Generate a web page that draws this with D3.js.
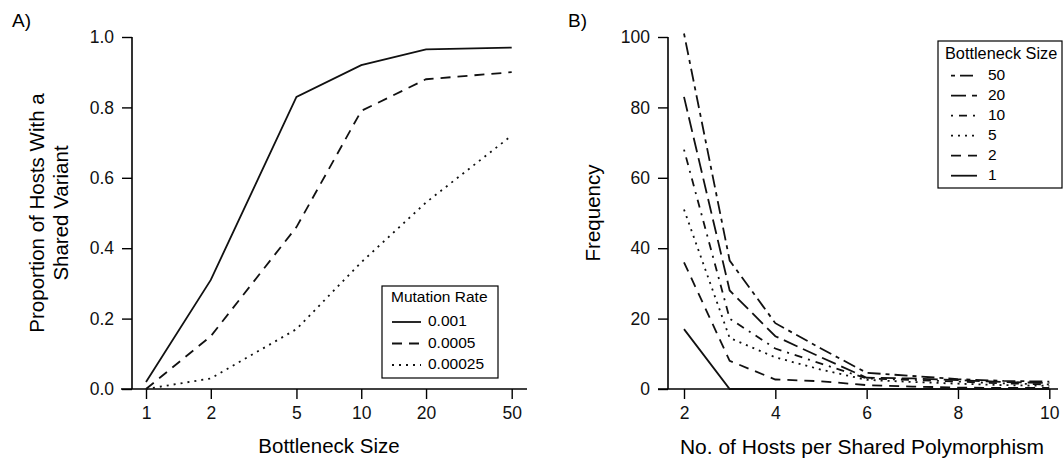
<!DOCTYPE html>
<html>
<head>
<meta charset="utf-8">
<script src="https://cdn.jsdelivr.net/npm/d3@7"></script>
<style>
  body { margin: 0; background: #fff; }
  svg { display: block; font-family: "Liberation Sans", Arial, Helvetica, sans-serif; }
</style>
</head>
<body>
<svg id="chart" width="1064" height="461"></svg>
<script>
// ---------- Data: Panel A ----------
const bottleneckSizes = [1, 2, 5, 10, 20, 50];
const mutationRates = ["0.001", "0.0005", "0.00025"];
const propRate001 = [0.02, 0.31, 0.83, 0.92, 0.965, 0.97];
const propRate0005 = [0.0, 0.15, 0.46, 0.79, 0.88, 0.90];
const propRate00025 = [0.0, 0.03, 0.17, 0.36, 0.53, 0.72];
const yTicksA = [0.0, 0.2, 0.4, 0.6, 0.8, 1.0];

// ---------- Data: Panel B ----------
const hostsPerPoly = [2, 3, 4, 5, 6, 7, 8, 9, 10];
const bottleneckLabels = ["50", "20", "10", "5", "2", "1"];
const freqB50 = [101, 36.5, 18.7, 11.5, 4.6, 3.7, 2.8, 2.3, 2.1];
const freqB20 = [83, 28, 15, 9, 3.2, 3.0, 2.5, 2.0, 1.7];
const freqB10 = [68, 20, 11.5, 7.2, 3.0, 2.6, 2.1, 1.6, 1.3];
const freqB5 = [51, 14.5, 9, 5.5, 2.6, 2.0, 1.5, 1.1, 0.9];
const freqB2 = [36, 8, 2.7, 2.2, 1.1, 0.7, 0.4, 0.3, 0.3];
const freqB1 = [17, 0, 0, 0, 0, 0, 0, 0, 0];
const yTicksB = [0, 20, 40, 60, 80, 100];
const xTicksB = [2, 4, 6, 8, 10];

// ---------- Styles ----------
const dashA = [null, "10,7", "2,5"];
const dashB = ["4,5,13,5", "15,6", "2,6,8,6", "2,5", "10,7", null];
const LW = 1.8;
const TICK_FONT = 17.5, TITLE_FONT = 20.5, LEG_FONT = 15.5;

const svg = d3.select("#chart");

function panel(opts) {
  const g = svg.append("g");
  const { x, y, axisX, xl, xr, yt, yb } = opts;
  g.append("line").attr("x1", axisX).attr("x2", axisX).attr("y1", yt).attr("y2", yb)
    .attr("stroke", "#000").attr("stroke-width", 1.6);
  g.append("line").attr("x1", xl).attr("x2", xr).attr("y1", yb).attr("y2", yb)
    .attr("stroke", "#000").attr("stroke-width", 1.6);
  const ya = d3.axisLeft(y).tickValues(opts.yTicks).tickFormat(opts.yFmt).tickSize(10).tickPadding(8);
  const yg = g.append("g").attr("transform", `translate(${axisX},0)`).call(ya);
  yg.select(".domain").remove();
  yg.selectAll(".tick line").attr("stroke-width", 1.4);
  yg.selectAll("text").attr("font-size", TICK_FONT).attr("font-family", null).attr("fill", "#111");
  const xa = d3.axisBottom(x).tickValues(opts.xTicks).tickFormat(opts.xFmt).tickSize(10).tickPadding(8);
  const xg = g.append("g").attr("transform", `translate(0,${yb})`).call(xa);
  xg.select(".domain").remove();
  xg.selectAll(".tick line").attr("stroke-width", 1.4);
  xg.selectAll("text").attr("font-size", TICK_FONT).attr("font-family", null).attr("fill", "#111");
  return g;
}

// ---------- Panel A ----------
const xA = d3.scaleLog().domain([1, 50]).range([146, 511.7]);
const yA = d3.scaleLinear().domain([0, 1]).range([389, 37]);
const gA = panel({ x: xA, y: yA, axisX: 132, xl: 121, xr: 527, yt: 37, yb: 389,
  xTicks: bottleneckSizes, yTicks: yTicksA, xFmt: d => String(d), yFmt: d3.format(".1f") });

const seriesA = [propRate001, propRate0005, propRate00025];
const lineA = d3.line().x((d, i) => xA(bottleneckSizes[i])).y(d => yA(d));
seriesA.forEach((s, k) => {
  gA.append("path").attr("d", lineA(s)).attr("fill", "none").attr("stroke", "#111")
    .attr("stroke-width", LW).attr("stroke-dasharray", dashA[k]);
});

svg.append("text").attr("x", 12).attr("y", 27).attr("font-size", 19).text("A)");
svg.append("text").attr("transform", "translate(39,213) rotate(-90)").attr("text-anchor", "middle")
  .attr("dominant-baseline", "middle").attr("font-size", TITLE_FONT).text("Proportion of Hosts With a");
svg.append("text").attr("transform", "translate(63,213) rotate(-90)").attr("text-anchor", "middle")
  .attr("dominant-baseline", "middle").attr("font-size", TITLE_FONT).text("Shared Variant");
svg.append("text").attr("x", 329).attr("y", 448).attr("text-anchor", "middle")
  .attr("dominant-baseline", "middle").attr("font-size", TITLE_FONT).text("Bottleneck Size");

// Legend A
const legA = svg.append("g");
legA.append("rect").attr("x", 382).attr("y", 286).attr("width", 116).attr("height", 92)
  .attr("fill", "#fff").attr("stroke", "#000").attr("stroke-width", 1.2);
legA.append("text").attr("x", 391).attr("y", 298).attr("dominant-baseline", "middle")
  .attr("font-size", LEG_FONT).text("Mutation Rate");
mutationRates.forEach((m, k) => {
  const yy = 322 + k * 21.5;
  legA.append("line").attr("x1", 392).attr("x2", 421).attr("y1", yy).attr("y2", yy)
    .attr("stroke", "#111").attr("stroke-width", LW).attr("stroke-dasharray", dashA[k]);
  legA.append("text").attr("x", 428).attr("y", yy).attr("dominant-baseline", "middle")
    .attr("font-size", LEG_FONT).text(m);
});

// ---------- Panel B ----------
const xB = d3.scaleLinear().domain([2, 10]).range([684, 1049.3]);
const yB = d3.scaleLinear().domain([0, 100]).range([389, 37]);
const gB = panel({ x: xB, y: yB, axisX: 668, xl: 658, xr: 1058, yt: 37, yb: 389,
  xTicks: xTicksB, yTicks: yTicksB, xFmt: d => String(d), yFmt: d => String(d) });

const seriesB = [freqB50, freqB20, freqB10, freqB5, freqB2, freqB1];
const lineB = d3.line().x((d, i) => xB(hostsPerPoly[i])).y(d => yB(d));
seriesB.forEach((s, k) => {
  gB.append("path").attr("d", lineB(s)).attr("fill", "none").attr("stroke", "#111")
    .attr("stroke-width", LW).attr("stroke-dasharray", dashB[k]);
});

svg.append("text").attr("x", 568).attr("y", 27).attr("font-size", 19).text("B)");
svg.append("text").attr("transform", "translate(595,213) rotate(-90)").attr("text-anchor", "middle")
  .attr("dominant-baseline", "middle").attr("font-size", TITLE_FONT).text("Frequency");
svg.append("text").attr("x", 862).attr("y", 448).attr("text-anchor", "middle")
  .attr("dominant-baseline", "middle").attr("font-size", TITLE_FONT + 0.5).text("No. of Hosts per Shared Polymorphism");

// Legend B
const legB = svg.append("g");
legB.append("rect").attr("x", 938).attr("y", 41).attr("width", 124).attr("height", 147)
  .attr("fill", "#fff").attr("stroke", "#000").attr("stroke-width", 1.2);
legB.append("text").attr("x", 945).attr("y", 55).attr("dominant-baseline", "middle")
  .attr("font-size", 16.3).text("Bottleneck Size");
bottleneckLabels.forEach((b, k) => {
  const yy = 75.7 + k * 20;
  legB.append("line").attr("x1", 951).attr("x2", 977).attr("y1", yy).attr("y2", yy)
    .attr("stroke", "#111").attr("stroke-width", LW).attr("stroke-dasharray", dashB[k]);
  legB.append("text").attr("x", 988).attr("y", yy).attr("dominant-baseline", "middle")
    .attr("font-size", LEG_FONT).text(b);
});
</script>
</body>
</html>
